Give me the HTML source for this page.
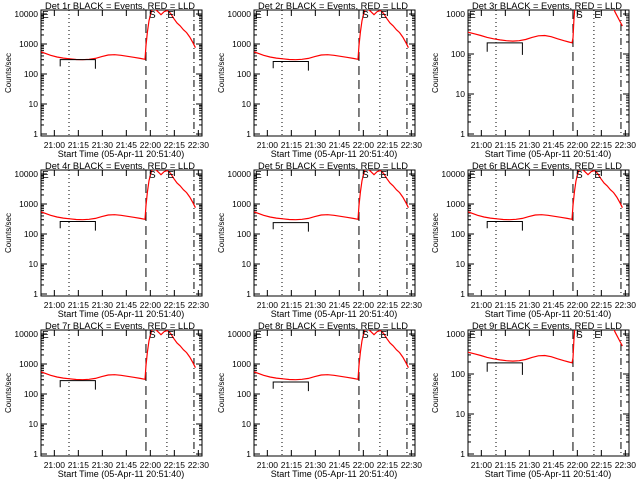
<!DOCTYPE html>
<html><head><meta charset="utf-8"><style>
html,body{margin:0;padding:0;background:#fff;width:640px;height:480px;overflow:hidden}
svg{display:block}
text{font-family:"Liberation Sans",sans-serif;fill:#000}
</style></head><body>
<svg id="fig" width="640" height="480" viewBox="0 0 640 480"></svg>
<script>
// minutes after 20:51:40
const redTimesA=[0,3,6,10,14,18,22,26,30,34,38,42,46,50,54,58,62,65,65.6,66.5,67.5,68.5,69.5,71,73,75,77,79,81,83,85,87,89,91,93,95,96.5];
const redValsA=[550,480,420,370,340,320,305,300,310,330,380,430,440,420,390,360,330,310,900,2500,6000,10000,14000,15000,12000,9500,12000,13000,10500,7000,5000,4000,3000,2400,1700,1100,750];
const redTimesB=[0,4,8,12,16,20,24,28,32,36,40,44,48,52,56,60,63,65,65.6,66.2,67,89,92,95,96.5];
const redValsB=[350,320,290,260,240,225,215,210,215,230,260,285,290,270,240,215,200,190,250,700,2000,2000,1100,650,500];
const blackTimes=[12,34];
const panelLabels=["1r","2r","3r","4r","5r","6r","7r","8r","9r"];
const panelType=["A","A","B","A","A","A","A","A","B"];
const blackLevel=[300,260,190,260,240,260,280,250,190];
const xTickLabels=["21:00","21:15","21:30","21:45","22:00","22:15","22:30"];
const xTickMins=[8.333,23.333,38.333,53.333,68.333,83.333,98.333];
const vLineMins=[17.5,65.6,78.7,95.6];
const NS="http://www.w3.org/2000/svg";
const svg=document.getElementById('fig');
function mk(tag,attrs,parent){const e=document.createElementNS(NS,tag);for(const k in attrs)e.setAttribute(k,attrs[k]);(parent||svg).appendChild(e);return e;}
panelLabels.forEach((lab,i)=>{
  const c=i%3,r=Math.floor(i/3);
  const ox=Math.round(c*213.33),oy=r*160;
  const x0=ox+41,x1=ox+202,y0=oy+10,y1=oy+136;
  const type=panelType[i];
  const topDec=type==="A"?4:3, decPx=type==="A"?30:40;
  const yTop=oy+14;
  const xs=t=>x0+t*1.6;
  const ys=v=>yTop+(topDec-Math.log10(v))*decPx;
  const g=mk('g',{});
  
  
  const cp=mk('clipPath',{id:'cp'+i},g);
  mk('rect',{x:x0,y:y0,width:x1-x0,height:y1-y0},cp);
  const t=mk('text',{x:ox+120,y:oy+9,'font-size':'9.5','text-anchor':'middle',textLength:'150',lengthAdjust:'spacingAndGlyphs'},g);
  t.textContent='Det '+lab+' BLACK = Events, RED = LLD';
  
  
  const yl=mk('text',{x:0,y:0,'font-size':'8','text-anchor':'middle',transform:`translate(${ox+11},${oy+73}) rotate(-90)`},g);
  yl.textContent='Counts/sec';
  
  
  const xl=mk('text',{x:ox+121,y:oy+157,'font-size':'9','text-anchor':'middle'},g);
  xl.textContent='Start Time (05-Apr-11 20:51:40)';
  
  
  const box=mk('rect',{x:x0,y:y0,width:x1-x0,height:y1-y0,fill:'none',stroke:'#000','stroke-width':1},g);
  
  
  for(let d=0;d<=topDec;d++){
    const v=Math.pow(10,d),y=ys(v);
    mk('line',{x1:x0,x2:x0+6,y1:y,y2:y,stroke:'#000'},g);
    mk('line',{x1:x1,x2:x1-6,y1:y,y2:y,stroke:'#000'},g);
    const tl=mk('text',{x:x0-3,y:y+3,'font-size':'8.5','text-anchor':'end'},g);
    tl.textContent=String(v);
    
    
    if(d<topDec){for(let m=2;m<10;m++){const ym=ys(v*m);mk('line',{x1:x0,x2:x0+3,y1:ym,y2:ym,stroke:'#000'},g);mk('line',{x1:x1,x2:x1-3,y1:ym,y2:ym,stroke:'#000'},g);}}
  }
  xTickMins.forEach((m,k)=>{
    const x=xs(m);
    mk('line',{x1:x,x2:x,y1:y1,y2:y1-6,stroke:'#000'},g);
    mk('line',{x1:x,x2:x,y1:y0,y2:y0+6,stroke:'#000'},g);
    const tl=mk('text',{x:x,y:oy+148,'font-size':'8.5','text-anchor':'middle'},g);
    tl.textContent=xTickLabels[k];
    
    
  });
  const dashes=['1,3','9,5','1,3','7,3,1,3'];
  vLineMins.forEach((m,k)=>{
    const l=mk('line',{x1:xs(m),x2:xs(m),y1:y0,y2:y1,stroke:'#000','stroke-dasharray':dashes[k]},g);
    
    
  });
  const rt=type==="A"?redTimesA:redTimesB, rv=type==="A"?redValsA:redValsB;
  let d='';
  rt.forEach((tm,k)=>{const x=xs(tm),y=ys(rv[k]);d+=(k?'L':'M')+x.toFixed(1)+','+y.toFixed(1);});
  const red=mk('path',{d:d,fill:'none',stroke:'#f00','stroke-width':1.2,'clip-path':`url(#cp${i})`},g);
  
  
  const bx0=xs(blackTimes[0]),bx1=xs(blackTimes[1]),by=ys(blackLevel[i]);
  const blk=mk('path',{d:`M${bx0},${ys(blackLevel[i]*0.6)}V${by}H${bx1}V${ys(blackLevel[i]*0.5)}`,fill:'none',stroke:'#000'},g);
  
  
  [['S',67.5],['E',79]].forEach(([s,m])=>{
    const e=mk('text',{x:xs(m),y:y0+8,'font-size':'10'},g);
    e.textContent=s;
    
    
  });
  const e0=mk('text',{x:x0+1,y:y0+8,'font-size':'10'},g);
  e0.textContent='E';
  
  
});
</script>
</body></html>
